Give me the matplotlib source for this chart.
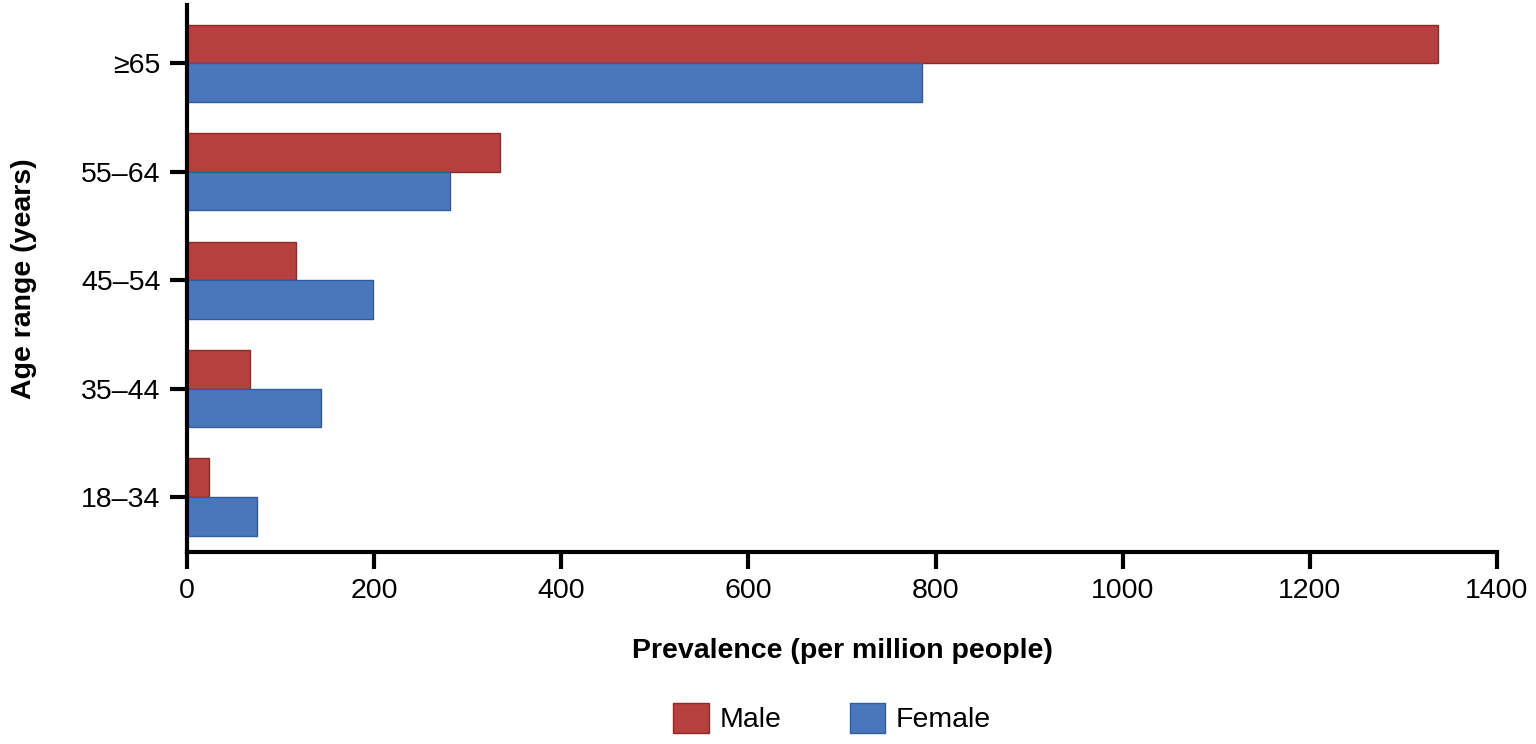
import matplotlib
matplotlib.use("Agg")
import matplotlib.pyplot as plt
import numpy as np
from matplotlib.patches import Patch

plt.rcParams['font.family'] = ['Liberation Sans', 'DejaVu Sans']

categories = ["18\u201334", "35\u201344", "45\u201354", "55\u201364", "\u226565"]
male = [23.5, 67, 116.5, 334.5, 1337]
female = [75, 143, 199, 281, 785]

male_color = "#B5403D"
female_color = "#4A77BC"

fig = plt.figure(figsize=(15.36, 7.44), dpi=100)
ax = fig.add_axes([187/1536, 1-552/744, (1497-187)/1536, (552-5)/744])

y = np.arange(len(categories))
h = 0.355
ax.barh(y + h/2, male, height=h, color=male_color, edgecolor="#8E2A27", linewidth=1)
ax.barh(y - h/2, female, height=h, color=female_color, edgecolor="#2F5C9E", linewidth=1)

ax.set_xlim(0, 1400)
ax.set_ylim(-0.507, 4.535)
ax.set_xticks([0, 200, 400, 600, 800, 1000, 1200, 1400])
ax.set_yticks(y)
ax.set_yticklabels(categories)
for s in ["top", "right"]:
    ax.spines[s].set_visible(False)
for s in ["left", "bottom"]:
    ax.spines[s].set_linewidth(3)
ax.tick_params(axis="both", which="major", length=12, width=3, labelsize=20.5, direction="out", pad=7)

ax.set_xlabel("Prevalence (per million people)", fontsize=20.5, fontweight="bold", labelpad=24)
ax.set_ylabel("Age range (years)", fontsize=20.5, fontweight="bold", labelpad=32)

handles = [Patch(facecolor=male_color, edgecolor="#8E2A27", label="Male"),
           Patch(facecolor=female_color, edgecolor="#2F5C9E", label="Female")]
fig.legend(handles=handles, loc="center", bbox_to_anchor=(832/1536, 1-718/744), ncol=2,
           frameon=False, fontsize=20.5, handlelength=1.25, handleheight=1.25,
           columnspacing=2.4, handletextpad=0.38)

fig.savefig("out.png", dpi=100)
